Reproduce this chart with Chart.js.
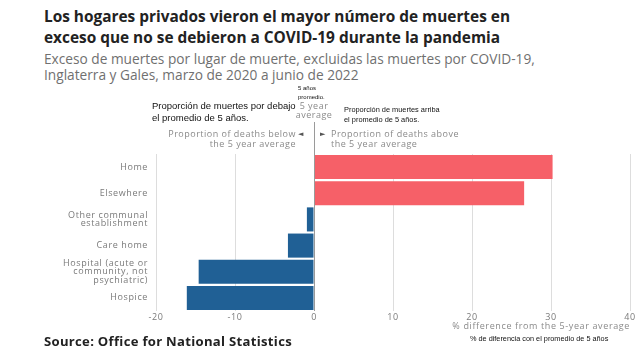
<!DOCTYPE html>
<html lang="es">
<head>
<meta charset="utf-8">
<script src="https://cdn.jsdelivr.net/npm/chart.js@4"></script>
<style>
  html, body { margin: 0; padding: 0; background: #fff; }
  #lienzo { position: relative; width: 640px; height: 360px; overflow: hidden; font-family: "Open Sans", sans-serif; }
  .t { position: absolute; white-space: nowrap; }
  .titulo { left: 44px; top: 6px; font-size: 15.4px; font-weight: 700; line-height: 21px; color: #222; }
  .subtitulo { left: 44px; top: 51px; font-size: 13.7px; line-height: 16px; color: #707070; }
  .fuente { left: 44px; top: 332px; font-size: 13.1px; font-weight: 700; line-height: 18px; color: #222; letter-spacing: 0.3px; }
  .gris { color: #8a8a8a; font-size: 9px; line-height: 10px; letter-spacing: 0.5px; }
  .nota { font-family: "Liberation Sans", sans-serif; color: #111; }
  .flecha { font-family: "DejaVu Sans", sans-serif; font-size: 7px; color: #555; }
  #grafico { position: absolute; left: 0; top: 100px; width: 640px; height: 232px; }
</style>
</head>
<body>
<div id="lienzo">
  <div class="t titulo">Los hogares privados vieron el mayor número de muertes en<br>exceso que no se debieron a COVID-19 durante la pandemia</div>
  <div class="t subtitulo">Exceso de muertes por lugar de muerte, excluidas las muertes por COVID-19,<br>Inglaterra y Gales, marzo de 2020 a junio de 2022</div>

  <div id="grafico"><canvas id="barras"></canvas></div>

  <div class="t nota" style="left:298px; top:84px; font-size:6px; line-height:9px;">5 años<br>promedio.</div>
  <div class="t gris" style="left:294px; top:101px; width:40px; text-align:center; line-height:9px;">5 year<br>average</div>
  <div class="t nota" style="left:152px; top:100px; font-size:9.5px; line-height:12px;">Proporción de muertes por debajo<br>el promedio de 5 años.</div>
  <div class="t nota" style="left:344px; top:105px; font-size:7.4px; line-height:10px;">Proporción de muertes arriba<br>el promedio de 5 años.</div>
  <div class="t gris" style="right:344px; top:129px; text-align:right;">Proportion of deaths below<br>the 5 year average</div>
  <div class="t flecha" style="left:298px; top:129px; line-height:10px;">◄</div>
  <div class="t flecha" style="left:320px; top:129px; line-height:10px;">►</div>
  <div class="t gris" style="left:331px; top:129px;">Proportion of deaths above<br>the 5 year average</div>

  <div class="t gris" style="right:10px; top:321px; letter-spacing:0.62px;">% difference from the 5-year average</div>
  <div class="t nota" style="left:470px; top:334px; font-size:7.3px; line-height:9px;">% de diferencia con el promedio de 5 años</div>
  <div class="t fuente">Source: Office for National Statistics</div>
</div>

<script>
const lugares = [
  "Home",
  "Elsewhere",
  ["Other communal", "establishment"],
  "Care home",
  ["Hospital (acute or", "community, not", "psychiatric)"],
  "Hospice",
];
const diferencias = [30.2, 26.6, -0.9, -3.3, -14.6, -16.1];
const marcasX = [-20, -10, 0, 10, 20, 30, 40];

const rojo = "#f66068";
const azul = "#206095";
const grisTexto = "#7a7a7a";

// linea del cero que sube por encima del area del grafico
const lineaCero = {
  id: "lineaCero",
  beforeDraw(chart) {
    chart.ctx.letterSpacing = "0.6px";
  },
  afterDraw(chart) {
    const ctx = chart.ctx;
    const x = Math.round(chart.scales.x.getPixelForValue(0)) + 0.5;
    ctx.save();
    ctx.strokeStyle = "#9a9a9a";
    ctx.lineWidth = 1;
    ctx.beginPath();
    ctx.moveTo(x, 22);
    ctx.lineTo(x, chart.chartArea.bottom);
    ctx.stroke();
    ctx.restore();
  },
};

new Chart(document.getElementById("barras"), {
  type: "bar",
  data: {
    labels: lugares,
    datasets: [
      {
        data: diferencias,
        backgroundColor: diferencias.map((v) => (v >= 0 ? rojo : azul)),
        barPercentage: 0.92,
        categoryPercentage: 1,
      },
    ],
  },
  options: {
    indexAxis: "y",
    responsive: true,
    maintainAspectRatio: false,
    animation: false,
    layout: { padding: { top: 54, right: 10, left: 0, bottom: 0 } },
    plugins: { legend: { display: false }, tooltip: { enabled: false } },
    scales: {
      x: {
        min: -20,
        max: 40,
        afterBuildTicks: (eje) => {
          eje.ticks = marcasX.map((v) => ({ value: v }));
        },
        afterFit: (eje) => {
          eje.height = 21;
        },
        border: { display: false },
        grid: {
          drawTicks: false,
          color: (c) => (c.tick && c.tick.value === 0 ? "#9a9a9a" : "#dddddd"),
        },
        ticks: {
          padding: 1,
          color: grisTexto,
          font: { family: "Open Sans", size: 9 },
        },
      },
      y: {
        afterFit: (eje) => {
          eje.width = 156;
        },
        border: { display: false },
        grid: { display: false, drawTicks: false },
        ticks: {
          autoSkip: false,
          padding: 8,
          color: grisTexto,
          font: { family: "Open Sans", size: 9, lineHeight: 0.95 },
        },
      },
    },
  },
  plugins: [lineaCero],
});
</script>
</body>
</html>
